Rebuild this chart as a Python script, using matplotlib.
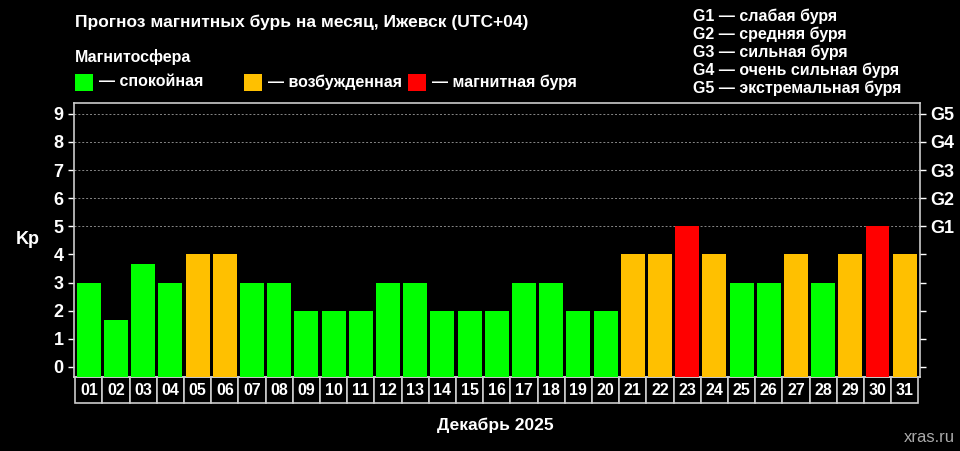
import matplotlib
matplotlib.use("Agg")
import matplotlib.pyplot as plt
from matplotlib.patches import Rectangle
import matplotlib.transforms as mtransforms

days = ["%02d" % i for i in range(1, 32)]
kp = [3, 1.67, 3.67, 3, 4, 4, 3, 3, 2, 2, 2, 3, 3, 2, 2, 2, 3, 3, 2, 2,
      4, 4, 5, 4, 3, 3, 4, 3, 4, 5, 4]
g_labels = ["G1", "G2", "G3", "G4", "G5"]
g_levels = [5, 6, 7, 8, 9]
legend_right = ["G1 — слабая буря", "G2 — средняя буря", "G3 — сильная буря",
                "G4 — очень сильная буря", "G5 — экстремальная буря"]

GREEN, ORANGE, RED = "#00ff00", "#ffc000", "#ff0000"
def col(v):
    return RED if v >= 5 else (ORANGE if v >= 4 else GREEN)

plt.rcParams['font.family'] = ['Liberation Sans', 'DejaVu Sans']
fig = plt.figure(figsize=(9.6, 4.51), dpi=100, facecolor="black")
ax = fig.add_axes([0.077, 0.164, 0.881, 0.608], facecolor="black")
ymin, ymax = -0.36, 9.39
x = list(range(len(days)))
ax.bar(x, [v - ymin for v in kp], bottom=ymin, width=0.88,
       color=[col(v) for v in kp], zorder=3)
ax.set_xlim(-0.55, len(days) - 0.45)
ax.set_ylim(ymin, ymax)
for lv in range(5, 10):
    ax.axhline(lv, color="#888888", ls=(0, (2, 2)), lw=0.7, zorder=1)
ax.set_yticks(range(10))
ax.set_yticklabels([str(i) for i in range(10)], color="white", fontsize=13, fontweight="bold")
ax.tick_params(axis="y", colors="white", length=4, width=1, labelcolor="white")
ax.set_xticks([])
for s in ax.spines.values():
    s.set_color("#cccccc"); s.set_linewidth(1.2)
ax2 = ax.twinx()
ax2.set_ylim(ymin, ymax)
ax2.set_yticks(range(10))
ax2.set_yticklabels(["" if i < 5 else g_labels[i - 5] for i in range(10)],
                    color="white", fontsize=13, fontweight="bold")
ax2.tick_params(axis="y", colors="white", length=4, width=1, labelcolor="white")
for s in ax2.spines.values():
    s.set_visible(False)

trans = mtransforms.blended_transform_factory(ax.transData, ax.transAxes)
for i, d in enumerate(days):
    ax.add_patch(Rectangle((i - 0.5, -0.095), 1, 0.095, transform=trans,
                           clip_on=False, facecolor="black", edgecolor="#cccccc", lw=1.2))
    ax.text(i, -0.0475, d, transform=trans, ha="center", va="center",
            color="white", fontsize=11.5, fontweight="bold")

ax.text(-0.055, 0.5, "Kp", transform=ax.transAxes, color="white", fontsize=13,
        fontweight="bold", ha="center", va="center")
fig.text(75/960, 1 - 22/451, "Прогноз магнитных бурь на месяц, Ижевск (UTC+04)",
         color="white", fontsize=12.5, fontweight="bold", va="center")
fig.text(75/960, 1 - 57/451, "Магнитосфера", color="white", fontsize=11.5,
         fontweight="bold", va="center")
for xs, c, t in [(75, GREEN, "— спокойная"), (244, ORANGE, "— возбужденная"),
                 (408, RED, "— магнитная буря")]:
    fig.patches.append(Rectangle((xs/960, 1 - 91/451), 18/960, 17/451,
                                 transform=fig.transFigure, facecolor=c))
    fig.text((xs + 24)/960, 1 - 82/451, t, color="white", fontsize=11.5,
             fontweight="bold", va="center")
for k, t in enumerate(legend_right):
    fig.text(693/960, 1 - (16 + 18*k)/451, t, color="white", fontsize=11.5,
             fontweight="bold", va="center")
fig.text(495/960, 1 - 425/451, "Декабрь 2025", color="white", fontsize=12.5,
         fontweight="bold", ha="center", va="center")
fig.text(955/960, 1 - 438/451, "xras.ru", color="#aaaaaa", fontsize=12,
         ha="right", va="center")
fig.savefig("out.png", dpi=100, facecolor="black")
